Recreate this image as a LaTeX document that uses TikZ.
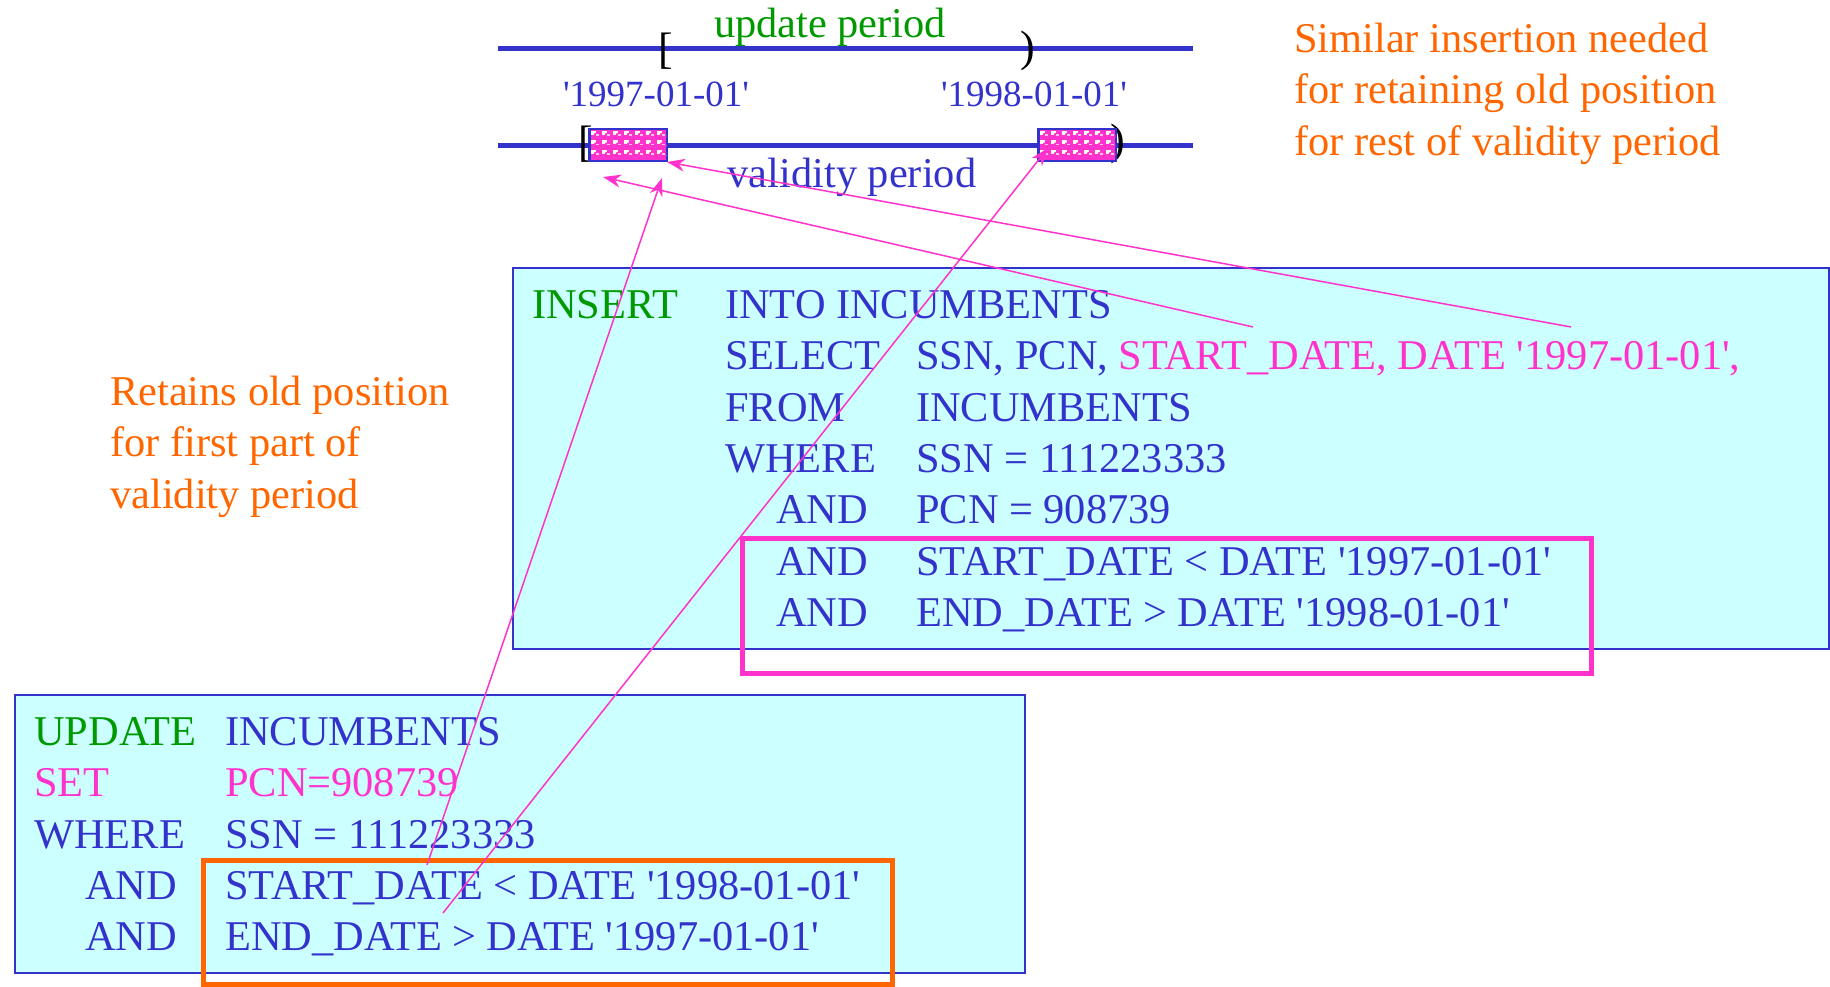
\documentclass[tikz,border=0pt]{standalone}
\usepackage{fontspec}
\setmainfont{Liberation Serif}
\usetikzlibrary{arrows.meta}
\definecolor{tblue}{HTML}{3333CC}
\definecolor{tgreen}{HTML}{009900}
\definecolor{tpink}{HTML}{FF33CC}
\definecolor{torange}{HTML}{FF6600}
\definecolor{tcyan}{HTML}{CCFFFF}
\newcommand{\sq}{\textquotesingle}
\newcommand{\hatchfill}[2]{%
  \foreach \i in {0,...,6}{\foreach \j in {0,...,2}{%
    \fill[white] ({#1+2+\i*11},{#2+2+\j*9.5}) rectangle ++(5,4);
    \fill[tpink] ({#1+8+\i*11},{#2+7+\j*9.5}) circle (3.6);
    \fill[white!70!tpink] ({#1+7+\i*11},{#2+5.5+\j*9.5}) rectangle ++(2.5,1.2);
  }}}
\begin{document}
\begin{tikzpicture}[x=1pt,y=-1pt,
  txt/.style={inner sep=0pt, anchor=base west, font=\fontsize{42.4}{50}\selectfont},
  blu/.style={txt, text=tblue},
  grn/.style={txt, text=tgreen},
  pnk/.style={txt, text=tpink},
  org/.style={txt, text=torange},
  date/.style={inner sep=0pt, anchor=base, text=tblue, font=\fontsize{37}{44}\selectfont},
  brk/.style={inner sep=0pt, anchor=center, text=black, font=\fontsize{44}{50}\selectfont},
  sqlbox/.style={draw=tblue, line width=2pt, fill=tcyan, anchor=north west, inner sep=0pt},
  tline/.style={draw=tblue, line width=5pt},
  hatch/.style={draw=tblue, line width=1.5pt, fill=tpink, anchor=north west, inner sep=0pt, minimum width=77pt, minimum height=31pt},
  frame/.style={line width=5pt},
  arr/.style={draw=tpink, line width=1.5pt, -{Stealth[length=18pt,width=13pt]}}
]
\useasboundingbox (0,0) rectangle (1830,987);

% timelines
\coordinate (t1a) at (498,49); \coordinate (t1b) at (1193,49);
\coordinate (t2a) at (498,146); \coordinate (t2b) at (1193,146);
\draw[tline] (t1a) -- (t1b);
\draw[tline] (t2a) -- (t2b);

\node[txt, text=tgreen, anchor=base] (upd) at (830,38) {update period};
\node[brk] (ub1) at (666,51) {[};
\node[brk] (ub2) at (1028,51) {)};
\node[date] (d1) at (656,107) {\sq1997-01-01\sq};
\node[date] (d2) at (1034,107) {\sq1998-01-01\sq};

\node[brk] (vb1) at (586,144) {[};
\node[brk] (vb2) at (1118,144) {)};

\node[hatch] (h1) at (589,129) {};
\hatchfill{589}{129}
\draw[draw=tblue, line width=1.5pt] (h1.north west) rectangle (h1.south east);
\node[hatch] (h2) at (1038,129) {};
\hatchfill{1038}{129}
\draw[draw=tblue, line width=1.5pt] (h2.north west) rectangle (h2.south east);

\node[txt, text=tblue, anchor=base] (vp) at (852,188) {validity period};

% orange notes
\node[org] (n1) at (1294,53) {Similar insertion needed};
\node[org] (n2) at (1294,104) {for retaining old position};
\node[org] (n3) at (1294,156) {for rest of validity period};
\node[org] (m1) at (110,405) {Retains old position};
\node[org] (m2) at (110,456) {for first part of};
\node[org] (m3) at (110,508) {validity period};

% INSERT box
\node[sqlbox, minimum width=1316pt, minimum height=381pt] (ins) at (512,267) {};
\node[grn] (i1) at (532,318) {INSERT};
\node[blu] (i2) at (725,318) {INTO INCUMBENTS};
\node[blu] (i3) at (725,369) {SELECT};
\node[blu] (i4) at (916,369) {SSN, PCN, \textcolor{tpink}{START\_DATE, DATE \sq1997-01-01\sq,}};
\node[blu] (i5) at (725,421) {FROM};
\node[blu] (i6) at (916,421) {INCUMBENTS};
\node[blu] (i7) at (725,472) {WHERE};
\node[blu] (i8) at (916,472) {SSN = 111223333};
\node[blu] (i9) at (776,523) {AND};
\node[blu] (i10) at (916,523) {PCN = 908739};
\node[blu] (i11) at (776,575) {AND};
\node[blu] (i12) at (916,575) {START\_DATE < DATE \sq1997-01-01\sq};
\node[blu] (i13) at (776,626) {AND};
\node[blu] (i14) at (916,626) {END\_DATE > DATE \sq1998-01-01\sq};
\coordinate (pf1) at (742,538); \coordinate (pf2) at (1591,673);
\draw[frame, draw=tpink] (pf1) rectangle (pf2);

% UPDATE box
\node[sqlbox, minimum width=1010pt, minimum height=278pt] (upb) at (14,694) {};
\node[grn] (u1) at (34,745) {UPDATE};
\node[blu] (u2) at (225,745) {INCUMBENTS};
\node[pnk] (u3) at (34,796) {SET};
\node[pnk] (u4) at (225,796) {PCN=908739};
\node[blu] (u5) at (34,848) {WHERE};
\node[blu] (u6) at (225,848) {SSN = 111223333};
\node[blu] (u7) at (85,899) {AND};
\node[blu] (u8) at (225,899) {START\_DATE < DATE \sq1998-01-01\sq};
\node[blu] (u9) at (85,950) {AND};
\node[blu] (u10) at (225,950) {END\_DATE > DATE \sq1997-01-01\sq};
\coordinate (of1) at (203,860); \coordinate (of2) at (892,984);
\draw[frame, draw=torange] (of1) rectangle (of2);

% arrows
\coordinate (a1s) at (427,865); \coordinate (a1e) at (662,178);
\coordinate (a2s) at (443,913); \coordinate (a2e) at (1048,148);
\coordinate (a3s) at (1253,327); \coordinate (a3e) at (603,177);
\coordinate (a4s) at (1571,327); \coordinate (a4e) at (667,162);
\draw[arr] (a1s) -- (a1e);
\draw[arr] (a2s) -- (a2e);
\draw[arr] (a3s) -- (a3e);
\draw[arr] (a4s) -- (a4e);
\end{tikzpicture}
\end{document}
